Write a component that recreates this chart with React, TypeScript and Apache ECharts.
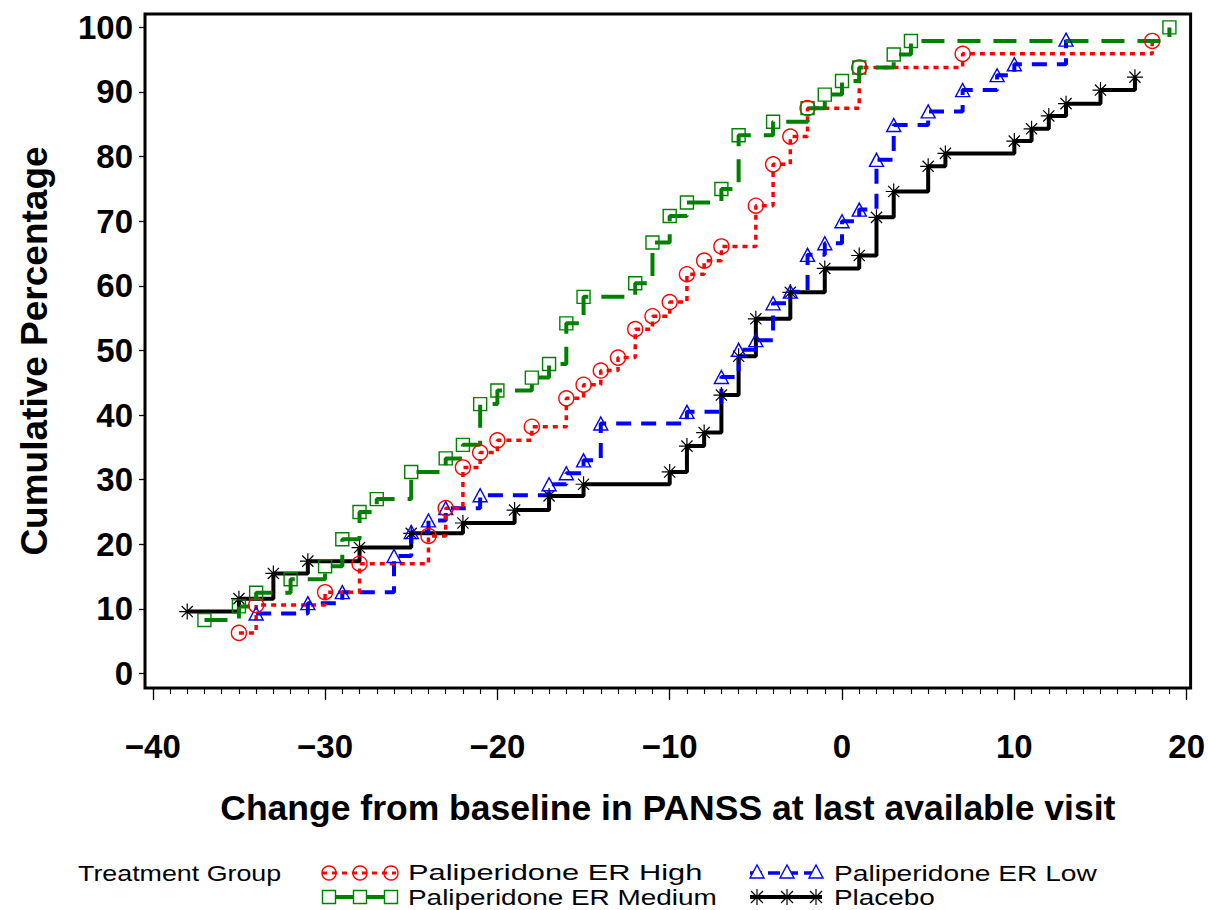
import React, { useEffect, useRef } from "react";
import * as echarts from "echarts";

// ---- Data ----
const highX = [-35, -34, -30, -28, -24, -23, -22, -21, -20, -18, -16, -15, -14, -13, -12, -11, -10, -9, -8, -7, -5, -4, -3, -2, 1, 7, 18];
const highY = [6.3, 10.6, 12.6, 17.0, 21.3, 25.6, 31.9, 34.2, 36.1, 38.2, 42.6, 44.7, 46.9, 48.9, 53.3, 55.3, 57.5, 61.8, 63.9, 66.1, 72.4, 78.8, 83.1, 87.5, 93.8, 95.9, 97.9];

const medX = [-37, -35, -34, -32, -30, -29, -28, -27, -25, -23, -22, -21, -20, -18, -17, -16, -15, -12, -11, -10, -9, -7, -6, -4, -2, -1, 0, 1, 3, 4, 19];
const medY = [8.3, 10.4, 12.5, 14.6, 16.6, 20.8, 25.0, 27.0, 31.2, 33.3, 35.4, 41.7, 43.8, 45.8, 47.9, 54.2, 58.3, 60.4, 66.7, 70.8, 72.9, 75.0, 83.3, 85.4, 87.5, 89.6, 91.7, 93.8, 95.8, 97.9, 100];

const lowX = [-34, -31, -29, -26, -25, -24, -23, -21, -17, -16, -15, -14, -9, -7, -6, -5, -4, -3, -2, -1, 0, 1, 2, 3, 5, 7, 9, 10, 13];
const lowY = [9.3, 10.9, 12.6, 18.2, 21.9, 23.7, 25.6, 27.6, 29.3, 31.0, 33.0, 38.7, 40.5, 45.9, 50.1, 51.6, 57.3, 59.1, 64.8, 66.6, 70.0, 71.8, 79.5, 84.9, 87.0, 90.3, 92.6, 94.3, 98.1];

const plaX = [-38, -35, -33, -31, -28, -25, -22, -19, -17, -15, -10, -9, -8, -7, -6, -5, -3, -1, 1, 2, 3, 5, 6, 10, 11, 12, 13, 15, 17];
const plaY = [9.6, 11.6, 15.5, 17.4, 19.5, 21.7, 23.3, 25.3, 27.5, 29.3, 31.2, 35.2, 37.3, 43.1, 49.1, 54.9, 59.0, 62.7, 64.7, 70.6, 74.6, 78.5, 80.5, 82.4, 84.3, 86.3, 88.2, 90.3, 92.3];

const xMajorTicks = [-40, -30, -20, -10, 0, 10, 20];
const yTicks = [0, 10, 20, 30, 40, 50, 60, 70, 80, 90, 100];

const seriesNames = ["Paliperidone ER High", "Paliperidone ER Medium", "Paliperidone ER Low", "Placebo"];
const legendTitle = "Treatment Group";
const xTitle = "Change from baseline in PANSS at last available visit";
const yTitle = "Cumulative Percentage";

const RED = "#ff0000";
const GREEN = "#008000";
const BLUE = "#0000ff";
const BLACK = "#000000";
const FONT = "'Liberation Sans', Arial, sans-serif";

const STAR = "path://M10,0L10,20M0,10L20,10M3,3L17,17M3,17L17,3";

const zip = (xs: number[], ys: number[]) => xs.map((x, i) => [x, ys[i]]);

function legendGraphics() {
  const els: any[] = [];
  const r1 = 873;
  const r2 = 897;
  const leftSym = [329, 360, 391];
  const rightSym = [757, 787, 816];
  const txt = (text: string, x: number, y: number, sx: number) => ({
    type: "text",
    x,
    y,
    scaleX: sx,
    style: { text, font: `22px ${FONT}`, fill: BLACK, textVerticalAlign: "middle", textAlign: "left" },
  });
  els.push(txt(legendTitle, 78, r1, 1.22));
  // High (red dotted + circles)
  els.push({ type: "line", shape: { x1: 322, y1: r1, x2: 396, y2: r1 }, style: { stroke: RED, lineWidth: 3, lineDash: [5, 5] } });
  leftSym.forEach((cx) => els.push({ type: "circle", shape: { cx, cy: r1, r: 7 }, style: { fill: "none", stroke: RED, lineWidth: 1.4 } }));
  els.push(txt(seriesNames[0], 408, r1, 1.4));
  // Medium (green solid + squares)
  els.push({ type: "line", shape: { x1: 322, y1: r2, x2: 396, y2: r2 }, style: { stroke: GREEN, lineWidth: 4 } });
  leftSym.forEach((cx) => els.push({ type: "rect", shape: { x: cx - 6.5, y: r2 - 6.5, width: 13, height: 13 }, style: { fill: "#fff", stroke: GREEN, lineWidth: 1.4 } }));
  els.push(txt(seriesNames[1], 408, r2, 1.27));
  // Low (blue dashed + triangles)
  els.push({ type: "line", shape: { x1: 750, y1: r1, x2: 822, y2: r1 }, style: { stroke: BLUE, lineWidth: 3.5, lineDash: [12, 6] } });
  rightSym.forEach((cx) =>
    els.push({ type: "polygon", shape: { points: [[cx, r1 - 8], [cx - 7, r1 + 5], [cx + 7, r1 + 5]] }, style: { fill: "#fff", stroke: BLUE, lineWidth: 1.4 } })
  );
  els.push(txt(seriesNames[2], 834, r1, 1.28));
  // Placebo (black solid + stars)
  els.push({ type: "line", shape: { x1: 750, y1: r2, x2: 822, y2: r2 }, style: { stroke: BLACK, lineWidth: 4 } });
  rightSym.forEach((cx) => {
    const s = 8;
    els.push({ type: "line", shape: { x1: cx, y1: r2 - s, x2: cx, y2: r2 + s }, style: { stroke: BLACK, lineWidth: 1.2 } });
    els.push({ type: "line", shape: { x1: cx - 6, y1: r2 - 6, x2: cx + 6, y2: r2 + 6 }, style: { stroke: BLACK, lineWidth: 1.2 } });
    els.push({ type: "line", shape: { x1: cx - 6, y1: r2 + 6, x2: cx + 6, y2: r2 - 6 }, style: { stroke: BLACK, lineWidth: 1.2 } });
  });
  els.push(txt(seriesNames[3], 834, r2, 1.27));
  return els;
}

export default function App() {
  const ref = useRef<HTMLDivElement>(null);
  useEffect(() => {
    if (!ref.current) return;
    const chart = echarts.init(ref.current, undefined, { renderer: "svg" });
    const xMinorTicks: number[] = [];
    for (let v = -40; v <= 20; v++) xMinorTicks.push(v);
    const fmtX = (v: number) => (v < 0 ? "\u2212" + Math.abs(v) : String(v));
    const axisLabelStyle = { color: BLACK, fontFamily: FONT, fontWeight: "bold", fontSize: 33 };
    const common = { type: "line", step: "end", showAllSymbol: true, silent: true, emphasis: { disabled: true } };
    chart.setOption({
      animation: false,
      backgroundColor: "#ffffff",
      grid: { left: 145, top: 14, width: 1049, height: 674, show: true, borderColor: BLACK, borderWidth: 3, containLabel: false },
      xAxis: [
        {
          type: "value",
          min: -40.45,
          max: 20.23,
          position: "bottom",
          axisLine: { show: false, onZero: false },
          splitLine: { show: false },
          axisTick: { show: true, customValues: xMajorTicks, length: 12, lineStyle: { color: BLACK, width: 1.3 } },
          axisLabel: { customValues: xMajorTicks, formatter: fmtX, margin: 42, ...axisLabelStyle },
          name: xTitle,
          nameLocation: "middle",
          nameGap: 102,
          nameTextStyle: { color: BLACK, fontFamily: FONT, fontWeight: "bold", fontSize: 35.5 },
        },
        {
          type: "value",
          min: -40.45,
          max: 20.23,
          position: "bottom",
          offset: 0,
          axisLine: { show: false, onZero: false },
          splitLine: { show: false },
          axisTick: { show: true, customValues: xMinorTicks, length: 6, lineStyle: { color: BLACK, width: 1.1 } },
          axisLabel: { show: false },
        },
      ],
      yAxis: {
        type: "value",
        min: -2.23,
        max: 102.07,
        position: "left",
        axisLine: { show: false, onZero: false },
        splitLine: { show: false },
        axisTick: { show: true, customValues: yTicks, length: 6, lineStyle: { color: BLACK, width: 1.3 } },
        axisLabel: { customValues: yTicks, margin: 12, ...axisLabelStyle },
        name: yTitle,
        nameLocation: "middle",
        nameGap: 92,
        nameTextStyle: { color: BLACK, fontFamily: FONT, fontWeight: "bold", fontSize: 37 },
      },
      series: [
        {
          ...common,
          name: seriesNames[3],
          data: zip(plaX, plaY),
          symbol: STAR,
          symbolSize: 16,
          itemStyle: { color: "rgba(0,0,0,0)", borderColor: BLACK, borderWidth: 1.2 },
          lineStyle: { color: BLACK, width: 4 },
        },
        {
          ...common,
          name: seriesNames[2],
          data: zip(lowX, lowY),
          symbol: "triangle",
          symbolSize: [14, 13],
          itemStyle: { color: "rgba(0,0,0,0)", borderColor: BLUE, borderWidth: 1.4 },
          lineStyle: { color: BLUE, width: 4, type: [15, 10] },
        },
        {
          ...common,
          name: seriesNames[0],
          data: zip(highX, highY),
          symbol: "circle",
          symbolSize: 15,
          itemStyle: { color: "rgba(0,0,0,0)", borderColor: RED, borderWidth: 1.4 },
          lineStyle: { color: RED, width: 3.5, type: [5, 5] },
        },
        {
          ...common,
          name: seriesNames[1],
          data: zip(medX, medY),
          symbol: "rect",
          symbolSize: 13,
          itemStyle: { color: "rgba(0,0,0,0)", borderColor: GREEN, borderWidth: 1.4 },
          lineStyle: { color: GREEN, width: 4, type: [23, 13] },
        },
      ],
      graphic: legendGraphics(),
    });
    return () => chart.dispose();
  }, []);
  return <div ref={ref} style={{ position: "absolute", left: 0, top: 0, width: 1208, height: 910, background: "#fff" }} />;
}
